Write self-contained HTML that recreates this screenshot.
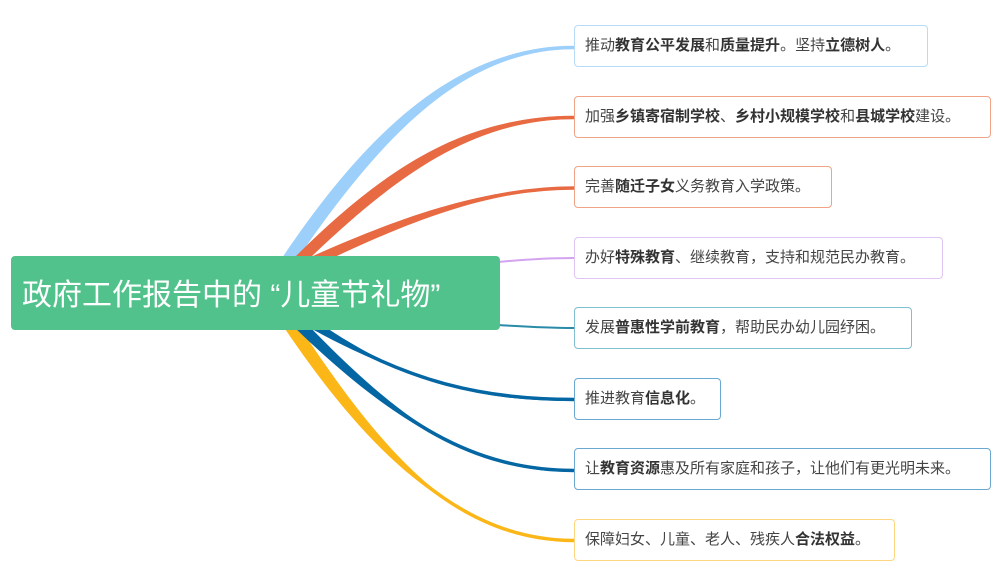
<!DOCTYPE html>
<html><head><meta charset="utf-8"><style>
body{margin:0;width:1000px;height:579px;background:#fff;position:relative;overflow:hidden;font-family:"Liberation Sans","Noto Sans CJK SC",sans-serif}
.b{position:absolute;left:574px;height:42px;border:1px solid;border-radius:4px;background:#fff;box-sizing:border-box;font-size:15px;line-height:40px;padding-left:10px;color:#444;white-space:nowrap}
.b b{font-weight:bold;color:#333}
#root{position:absolute;left:11px;top:256px;width:489px;height:74px;background:#52c28c;border-radius:4px;color:#fff;font-size:30px;line-height:80px;padding-left:11px;box-sizing:border-box;white-space:nowrap}
svg{position:absolute;left:0;top:0}
</style></head><body>
<svg width="1000" height="579">
<g>
<path d="M282 258 C372 124 462 46 574 46 L574 49 C466 50 386 130 298 258 Z" fill="#9ccffa"/>
<path d="M294 258 C390 162 470 116 574 116 L574 119 C476 120 402 170 310 258 Z" fill="#e86a43"/>
<path d="M304 260 C410 212 490 187 574 187 L574 189 C494 190 420 216 320 264 Z" fill="#e86a43"/>
<path d="M283 326 C372 458 460 539 574 539 L574 542 C462 542 386 458 299 326 Z" fill="#fbb617"/>
<path d="M293 326 C392 422 470 469 574 469 L574 472 C474 472 404 424 309 326 Z" fill="#0466a3"/>
<path d="M303 324 C405 382 485 398 574 398 L574 401 C490 401 414 388 318 322 Z" fill="#0466a3"/>
</g>
<g fill="none" stroke-width="3.5">
<path d="M290 258 C379 127 464 47 574 47.5" stroke="#9ccffa"/>
<path d="M302 258 C396 166 473 117 574 117.5" stroke="#e86a43"/>
<path d="M312 262 C415 214 492 188 574 188" stroke="#e86a43"/>
<path d="M291 326 C379 458 461 540 574 540.5" stroke="#fbb617"/>
<path d="M301 326 C398 423 472 470 574 470.5" stroke="#0466a3"/>
<path d="M310 323 C410 385 487 399 574 399.5" stroke="#0466a3"/>
<path d="M498 262 C530 259 550 258 574 258" stroke="#d4a3f0" stroke-width="2"/>
<path d="M498 325 C530 327 550 328 574 328" stroke="#2a8ba8" stroke-width="2"/>
</g></svg>
<div id="root">政府工作报告中的 “儿童节礼物”</div>
<div class="b" style="top:25px;width:354px;border-color:#b7dcf8">推动<b>教育公平发展</b>和<b>质量提升</b>。坚持<b>立德树人</b>。</div>
<div class="b" style="top:96px;width:417px;border-color:#f0a385">加强<b>乡镇寄宿制学校</b>、<b>乡村小规模学校</b>和<b>县城学校</b>建设。</div>
<div class="b" style="top:166px;width:258px;border-color:#f0a385">完善<b>随迁子女</b>义务教育入学政策。</div>
<div class="b" style="top:237px;width:369px;border-color:#e0c4f2">办好<b>特殊教育</b>、继续教育，支持和规范民办教育。</div>
<div class="b" style="top:307px;width:338px;border-color:#7fbfcf">发展<b>普惠性学前教育</b>，帮助民办幼儿园纾困。</div>
<div class="b" style="top:378px;width:147px;border-color:#6aa8cf">推进教育<b>信息化</b>。</div>
<div class="b" style="top:448px;width:417px;border-color:#6aa8cf">让<b>教育资源</b>惠及所有家庭和孩子，让他们有更光明未来。</div>
<div class="b" style="top:519px;width:321px;border-color:#fcd77f">保障妇女、儿童、老人、残疾人<b>合法权益</b>。</div>
</body></html>
